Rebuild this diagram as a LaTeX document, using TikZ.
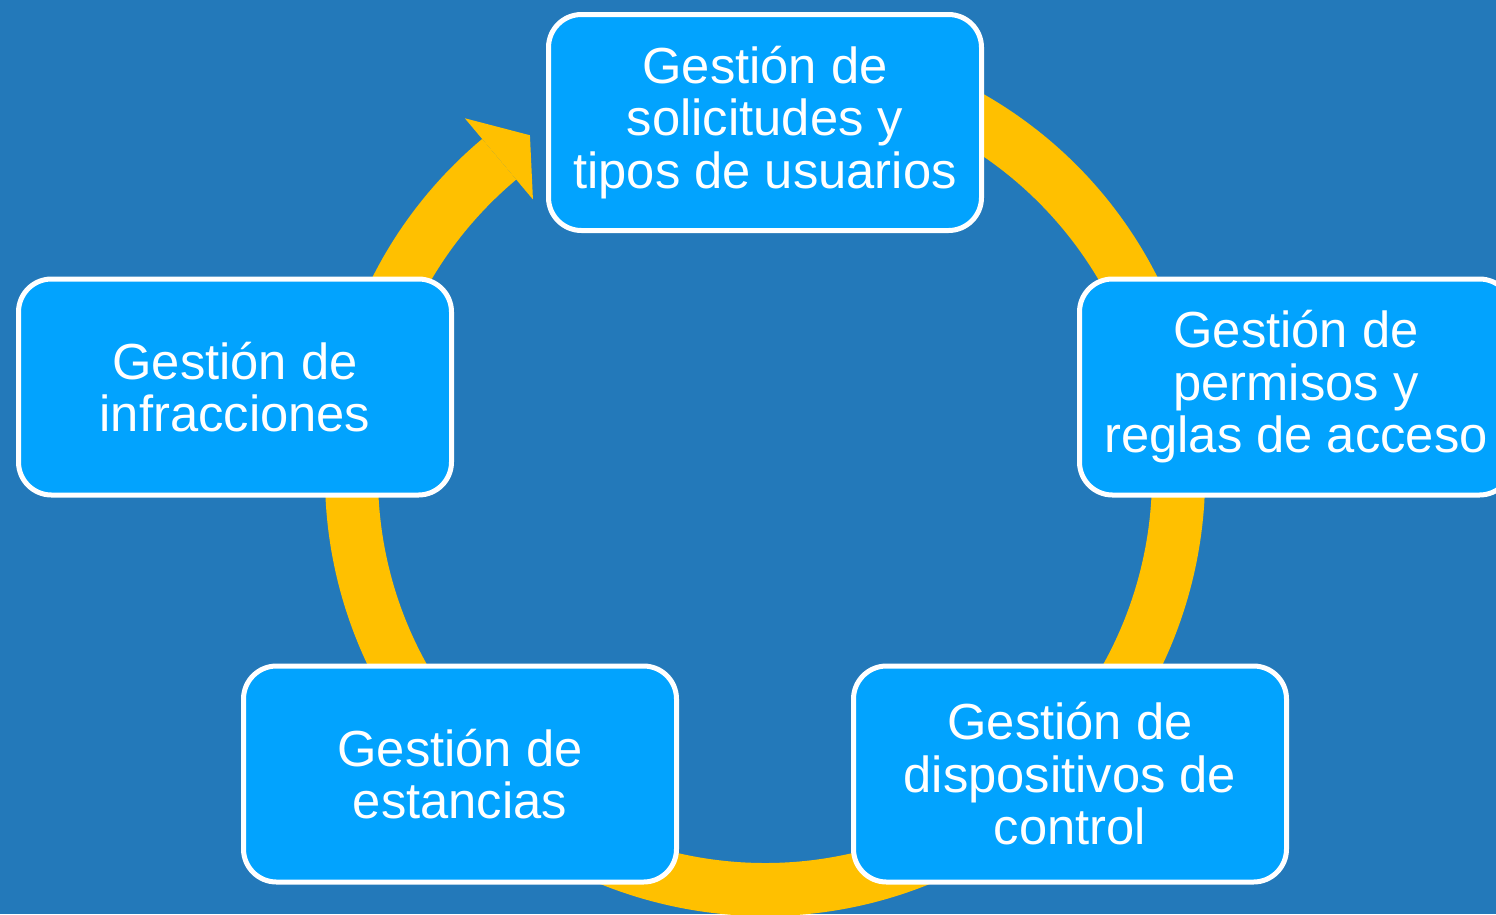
\documentclass[tikz,border=0pt]{standalone}
\usepackage{fontspec}
\setmainfont{Liberation Sans}
\definecolor{bgc}{HTML}{2379BA}
\definecolor{boxc}{HTML}{02A3FE}
\definecolor{ringc}{HTML}{FFC000}
\begin{document}
\begin{tikzpicture}[x=1pt,y=1pt,
  stage/.style={draw=white, line width=5pt, fill=boxc, rounded corners=33pt,
    minimum width=433pt, minimum height=216pt, inner sep=0pt, align=center,
    text=white, font=\fontsize{50.7}{52.5}\selectfont}]
\useasboundingbox (0,0) rectangle (1496,-914);
\clip (0,0) rectangle (1496,-914);
\fill[bgc] (0,0) rectangle (1496,-914);
\begin{scope}[shift={(765,-476)}]
  \fill[ringc] (115:440) arc[start angle=115, end angle=-230, radius=440]
    -- (-230:387) arc[start angle=-230, end angle=115, radius=387] -- cycle;
  \fill[ringc] (130:467) -- (124.6:414) -- (130:361) -- cycle;
\end{scope}
\node[stage] (a) at (765,-122.5) {Gestión de\\solicitudes y\\tipos de usuarios};
\node[stage] (b) at (1296,-387) {Gestión de\\permisos y\\reglas de acceso};
\node[stage] (c) at (1070,-774) {Gestión de\\dispositivos de\\control};
\node[stage] (d) at (460,-774) {Gestión de\\estancias};
\node[stage] (e) at (235,-387) {Gestión de\\infracciones};
\end{tikzpicture}
\end{document}
